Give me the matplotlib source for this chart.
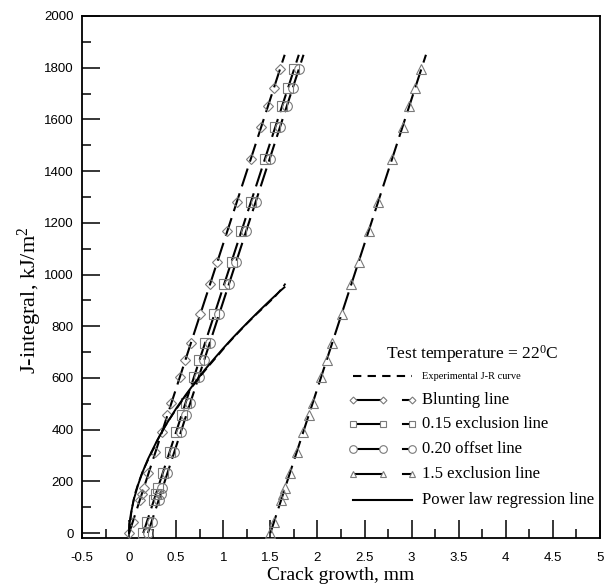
import numpy as np
import matplotlib
matplotlib.use("Agg")
import matplotlib.pyplot as plt
from matplotlib.ticker import MultipleLocator

plt.rcParams['mathtext.fontset'] = 'custom'
plt.rcParams['mathtext.rm'] = 'Liberation Serif'
plt.rcParams['mathtext.it'] = 'Liberation Serif:italic'

# ---------------- data ----------------
# J levels of the measured points (kJ/m^2)
J_pts = [0, 44, 128, 150, 173, 231, 314, 392, 456, 503, 602, 669, 734,
         847, 963, 1050, 1167, 1282, 1446, 1572, 1652, 1720, 1794]
# crack growth at which each J level meets the blunting line (mm)
blunt_x = [0.000, 0.039, 0.114, 0.134, 0.154, 0.206, 0.280, 0.350, 0.407,
           0.449, 0.538, 0.597, 0.655, 0.756, 0.860, 0.938, 1.042, 1.145,
           1.291, 1.404, 1.475, 1.536, 1.602]
# construction line end points (blunting line)
line_x = [0.0, 1.652]
line_J = [0, 1850]
# offsets of the four construction lines (mm)
line_names = ["Blunting line", "0.15 exclusion line", "0.20 offset line", "1.5 exclusion line"]
line_offsets = [0.0, 0.15, 0.20, 1.5]
line_markers = ["D", "s", "o", "^"]
line_msize = [5.0, 6.5, 7.0, 6.5]

# experimental J-R curve
exp_da = [0.0, 0.01, 0.03, 0.06, 0.10, 0.14, 0.20, 0.27, 0.35, 0.45, 0.55,
          0.65, 0.75, 0.85, 0.95, 1.05, 1.15, 1.25, 1.35, 1.45, 1.55, 1.62, 1.66]
exp_J = [0, 40, 95, 150, 195, 235, 282, 335, 395, 452, 505, 556, 604, 648,
         690, 733, 772, 810, 846, 880, 915, 945, 965]

# power law regression line
fit_da = [0.0, 0.001, 0.005, 0.01, 0.02, 0.05, 0.1, 0.15, 0.2, 0.3, 0.4, 0.5,
          0.6, 0.7, 0.8, 0.9, 1.0, 1.1, 1.2, 1.3, 1.4, 1.5, 1.6, 1.65]
fit_J = [0, 14, 35, 52, 77, 130, 192, 242, 286, 360, 424, 482, 534, 583,
         630, 673, 715, 755, 793, 830, 866, 901, 935, 951]

x_ticks = [-0.5, 0, 0.5, 1, 1.5, 2, 2.5, 3, 3.5, 4, 4.5, 5]
x_ticklabels = ["-0.5", "0", "0.5", "1", "1.5", "2", "2.5", "3", "3.5", "4", "4.5", "5"]
y_ticks = [0, 200, 400, 600, 800, 1000, 1200, 1400, 1600, 1800, 2000]

# ---------------- figure ----------------
W, H = 616, 587
fig = plt.figure(figsize=(W / 100, H / 100), dpi=100)
L, R, T, B = 82, 600, 16, 538
ax = fig.add_axes([L / W, 1 - B / H, (R - L) / W, (B - T) / H])

mcol = "#7a7a7a"
for off, mk, ms in zip(line_offsets, line_markers, line_msize):
    ax.plot(np.array(line_x) + off, line_J, color="k", lw=1.5, dashes=(9, 3.5), zorder=3)
    ax.plot(np.array(blunt_x) + off, J_pts, ls="none", marker=mk, ms=ms, mfc="none",
            mec=mcol, mew=0.8, zorder=4)

ax.plot(exp_da, exp_J, color="k", lw=1.3, dashes=(5, 2.5), zorder=5)
ax.plot(fit_da, fit_J, color="k", lw=1.4, zorder=5)

ax.set_xlim(-0.5, 5)
ax.set_ylim(-19, 2000)
ax.set_xticks(x_ticks)
ax.set_xticklabels(x_ticklabels)
ax.set_yticks(y_ticks)
ax.xaxis.set_minor_locator(MultipleLocator(0.25))
ax.yaxis.set_minor_locator(MultipleLocator(100))
ax.tick_params(which="major", direction="in", length=13, width=1.1,
               labelsize=9.5, top=False, right=False)
ax.tick_params(axis="x", which="major", pad=10)
ax.tick_params(axis="y", which="major", pad=6)
ax.tick_params(which="minor", direction="in", length=6.5, width=1.1, top=False, right=False)
for lab in ax.get_xticklabels() + ax.get_yticklabels():
    lab.set_fontfamily("Liberation Sans")
for s in ax.spines.values():
    s.set_linewidth(1.3)

ax.set_xlabel("Crack growth, mm", family="Liberation Serif", fontsize=14, labelpad=2)
ax.set_ylabel("J-integral, kJ/m$^2$", family="Liberation Serif", fontsize=16, va="center")

# ---------------- legend (drawn in axes fraction) ----------------
def fx(px):
    return (px - L) / (R - L)

def fy(py):
    return 1 - (py - T) / (B - T)

ax.yaxis.set_label_coords(fx(30), fy(300))

tr = ax.transAxes
ax.text(fx(472), fy(354), "Test temperature = 22$^{\\mathrm{0}}$C", transform=tr,
        ha="center", va="center", family="Liberation Serif", fontsize=12.5)

rows = [376, 400, 424, 449, 474, 500]
hx0, hx1, sx0, sx1, tx = 353, 383, 403, 412, 422
# experimental
ax.plot([fx(hx0), fx(sx1)], [fy(rows[0])] * 2, transform=tr, color="k", lw=1.5,
        dashes=(4, 3), clip_on=False)
ax.text(fx(tx), fy(rows[0]), "Experimental J-R curve", transform=tr, va="center",
        family="Liberation Serif", fontsize=7.5)
for i, (name, mk, ms) in enumerate(zip(line_names, line_markers, line_msize)):
    yy = fy(rows[i + 1])
    ax.plot([fx(hx0), fx(hx1)], [yy, yy], transform=tr, color="k", lw=1.5, clip_on=False)
    ax.plot([fx(hx0), fx(hx1)], [yy, yy], transform=tr, ls="none", marker=mk, ms=ms - 1.5,
            mfc="white", mec=mcol, mew=0.8, clip_on=False)
    ax.plot([fx(sx0), fx(sx1 - 2)], [yy, yy], transform=tr, color="k", lw=1.5, clip_on=False)
    ax.plot([fx(sx1)], [yy], transform=tr, ls="none", marker=mk, ms=ms - 1.5,
            mfc="white", mec=mcol, mew=0.8, clip_on=False)
    ax.text(fx(tx), yy, name, transform=tr, va="center", family="Liberation Serif",
            fontsize=12)
yy = fy(rows[5])
ax.plot([fx(hx0), fx(sx1)], [yy, yy], transform=tr, color="k", lw=1.5, clip_on=False)
ax.text(fx(tx), yy, "Power law regression line", transform=tr, va="center",
        family="Liberation Serif", fontsize=12)

fig.savefig("out.png", dpi=100)
